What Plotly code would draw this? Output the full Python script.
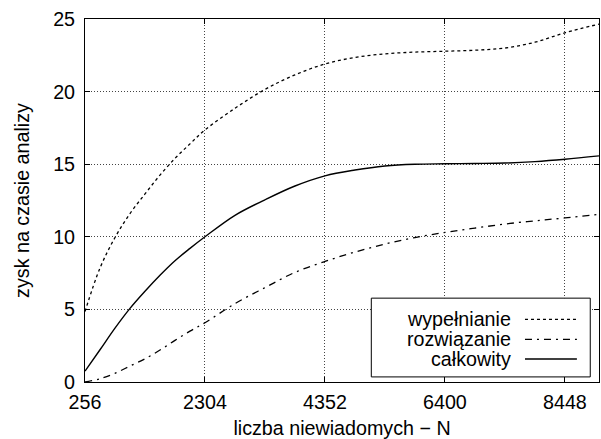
import plotly.graph_objects as go

# Data
N = [256, 512, 768, 1024, 1280, 1536, 1792, 2048, 2304, 2816, 3328, 3840,
     4352, 4864, 5376, 5888, 6400, 6912, 7424, 7936, 8448, 9030]
wypelnianie = [4.85, 7.85, 9.95, 11.6, 12.95, 14.25, 15.4, 16.4, 17.36, 18.85,
               20.15, 21.15, 21.9, 22.35, 22.6, 22.72, 22.78, 22.85, 23.0,
               23.4, 24.05, 24.65]
rozwiazanie = [0.0, 0.22, 0.6, 1.1, 1.6, 2.2, 2.87, 3.5, 4.08, 5.4, 6.5, 7.55,
               8.3, 8.95, 9.5, 9.95, 10.3, 10.6, 10.88, 11.1, 11.3, 11.55]
calkowity = [0.75, 2.22, 3.71, 5.07, 6.25, 7.35, 8.35, 9.2, 10.0, 11.48, 12.55,
             13.5, 14.2, 14.6, 14.88, 15.0, 15.03, 15.05, 15.08, 15.18, 15.34,
             15.57]

x_ticks = [256, 2304, 4352, 6400, 8448]
y_ticks = [0, 5, 10, 15, 20, 25]
series_names = ["wypełnianie", "rozwiązanie", "całkowity"]
dashes = ["3px,3px", "7px,5px,2px,5px", "solid"]

FONT = "Liberation Sans, Arial, sans-serif"
FS = 19.7

fig = go.Figure()
for name, ys, dash in zip(series_names, [wypelnianie, rozwiazanie, calkowity], dashes):
    fig.add_trace(go.Scatter(
        x=N, y=ys, mode="lines", name=name, line_shape="spline",
        line=dict(color="black", width=1.3 if dash != "solid" else 1.4, dash=dash),
        showlegend=False,
    ))

# Custom legend (text left, line sample right), in paper coordinates
lx0, lx1, ly0, ly1 = 0.557, 0.983, 0.014, 0.231
fig.add_shape(type="rect", xref="paper", yref="paper", x0=lx0, x1=lx1, y0=ly0, y1=ly1,
              line=dict(color="black", width=1), fillcolor="white", layer="above")
rows_y = [0.1727, 0.1176, 0.0634]
for name, dash, yy in zip(series_names, dashes, rows_y):
    fig.add_annotation(xref="paper", yref="paper", x=0.833, y=yy, text=name,
                       showarrow=False, xanchor="right", yanchor="middle",
                       font=dict(family=FONT, size=FS, color="black"))
    fig.add_shape(type="line", xref="paper", yref="paper", x0=0.856, x1=0.957,
                  y0=yy, y1=yy, layer="above",
                  line=dict(color="black", width=1.3, dash=dash))

axis_common = dict(
    showline=True, linecolor="black", linewidth=1, mirror="ticks",
    ticks="inside", ticklen=5, tickcolor="black",
    showgrid=True, gridcolor="#444", griddash="1px,2px", gridwidth=1,
    zeroline=False,
    tickfont=dict(family=FONT, size=FS, color="black"),
)

fig.update_xaxes(range=[256, 9030], tickvals=x_ticks, ticktext=[str(v) for v in x_ticks],
                 ticklabelstandoff=2,
                 title=dict(text="liczba niewiadomych − N", standoff=11,
                            font=dict(family=FONT, size=FS, color="black")),
                 **axis_common)
fig.update_yaxes(range=[0, 25], tickvals=y_ticks, ticklabelstandoff=5,
                 title=dict(text="zysk na czasie analizy", standoff=18,
                            font=dict(family=FONT, size=FS, color="black")),
                 **axis_common)

fig.update_layout(
    width=601, height=439,
    margin=dict(l=85, r=2, t=19, b=57, autoexpand=False),
    plot_bgcolor="white", paper_bgcolor="white",
    font=dict(family=FONT, size=FS, color="black"),
)

fig.write_html("out.html", config={"displayModeBar": False},
               post_script="document.body.style.margin='0px';")
